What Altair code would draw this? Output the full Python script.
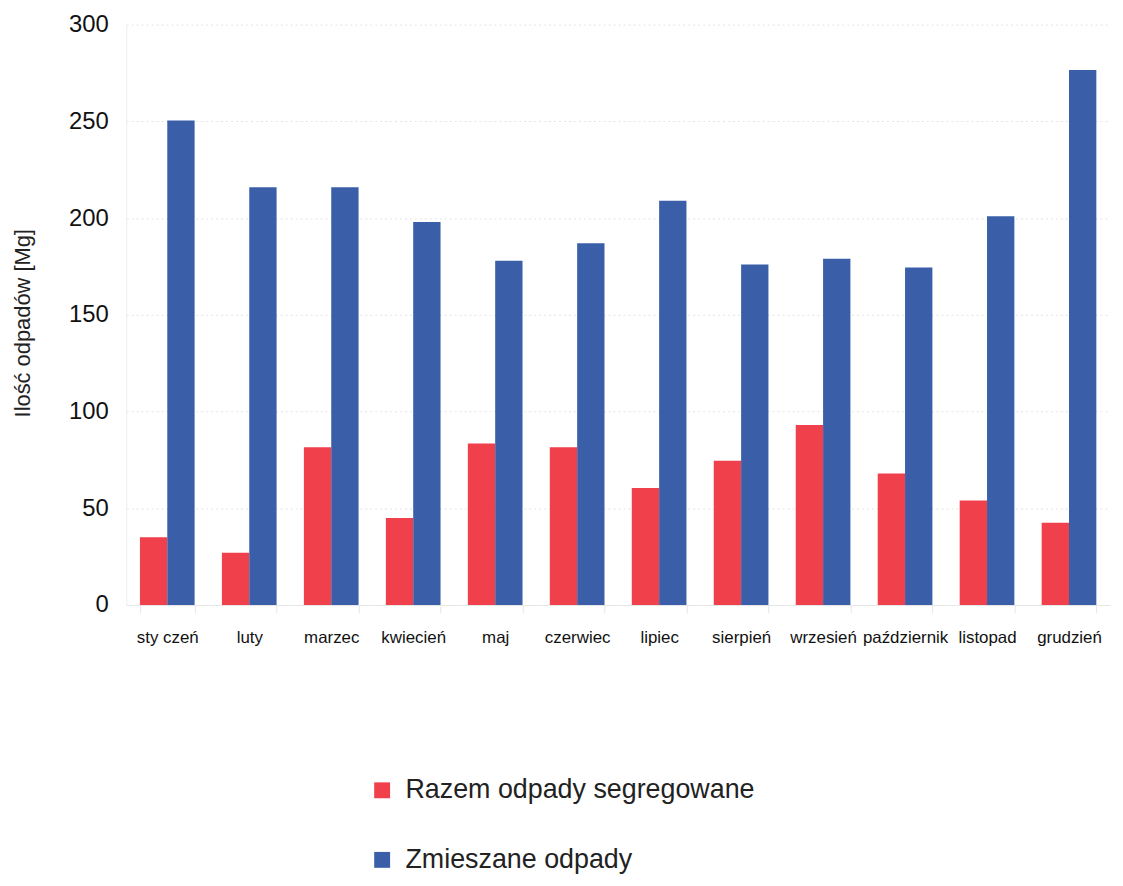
import altair as alt
import pandas as pd

months = ["sty czeń", "luty", "marzec", "kwiecień", "maj", "czerwiec", "lipiec",
          "sierpień", "wrzesień", "październik", "listopad", "grudzień"]
series_names = ["Razem odpady segregowane", "Zmieszane odpady"]
segregowane = [35, 27, 81.5, 45, 83.5, 81.5, 60.5, 74.5, 93, 68, 54, 42.5]
zmieszane = [250.5, 216, 216, 198, 178, 187, 209, 176, 179, 174.5, 201, 276.5]
colors = ["#F0404B", "#3A5FA8"]

rows = []
for i, m in enumerate(months):
    rows.append({"miesiac": m, "seria": series_names[0], "wartosc": segregowane[i]})
    rows.append({"miesiac": m, "seria": series_names[1], "wartosc": zmieszane[i]})
df = pd.DataFrame(rows)

FONT = "Liberation Sans"

chart = alt.Chart(df).mark_bar().encode(
    x=alt.X("miesiac:N", sort=months, title=None,
            scale=alt.Scale(paddingInner=0.333, paddingOuter=0.167),
            axis=alt.Axis(labelAngle=0, labelFontSize=17, labelFont=FONT,
                          labelColor="#111", labelPadding=17, tickBand="extent",
                          tickColor="#e6e6e6", tickSize=8, domainColor="#e6e6e6",
                          grid=False)),
    xOffset=alt.XOffset("seria:N", sort=series_names,
                        scale=alt.Scale(paddingInner=0, paddingOuter=0)),
    y=alt.Y("wartosc:Q", title="Ilość odpadów [Mg]",
            scale=alt.Scale(domain=[0, 300], nice=False),
            axis=alt.Axis(values=[0, 50, 100, 150, 200, 250, 300], labelFontSize=24,
                          labelFont=FONT, labelColor="#111", labelPadding=18,
                          ticks=False, domainColor="#eeeeee",
                          grid=True, gridColor="#e4e4e4", gridDash=[2, 3],
                          titleFont=FONT, titleFontSize=22, titleFontWeight="normal",
                          titleColor="#222", titleX=-104, titleY=300, titleAngle=270,
                          titleBaseline="middle", titleAlign="center")),
    color=alt.Color("seria:N", sort=series_names,
                    scale=alt.Scale(domain=series_names, range=colors),
                    legend=alt.Legend(title=None, orient="none", legendX=244, legendY=757,
                                      direction="vertical", symbolType="square",
                                      symbolSize=256, symbolStrokeWidth=0,
                                      labelFont=FONT, labelFontSize=27, labelLimit=0,
                                      labelColor="#222", rowPadding=42,
                                      labelOffset=10)),
).properties(
    width=990,
    height=584,
    autosize=alt.AutoSizeParams(type="none"),
    padding={"left": 119, "top": 14, "right": 5, "bottom": 271},
).configure_view(stroke=None)

chart.save("out.html", embed_options={"renderer": "svg", "actions": False})
